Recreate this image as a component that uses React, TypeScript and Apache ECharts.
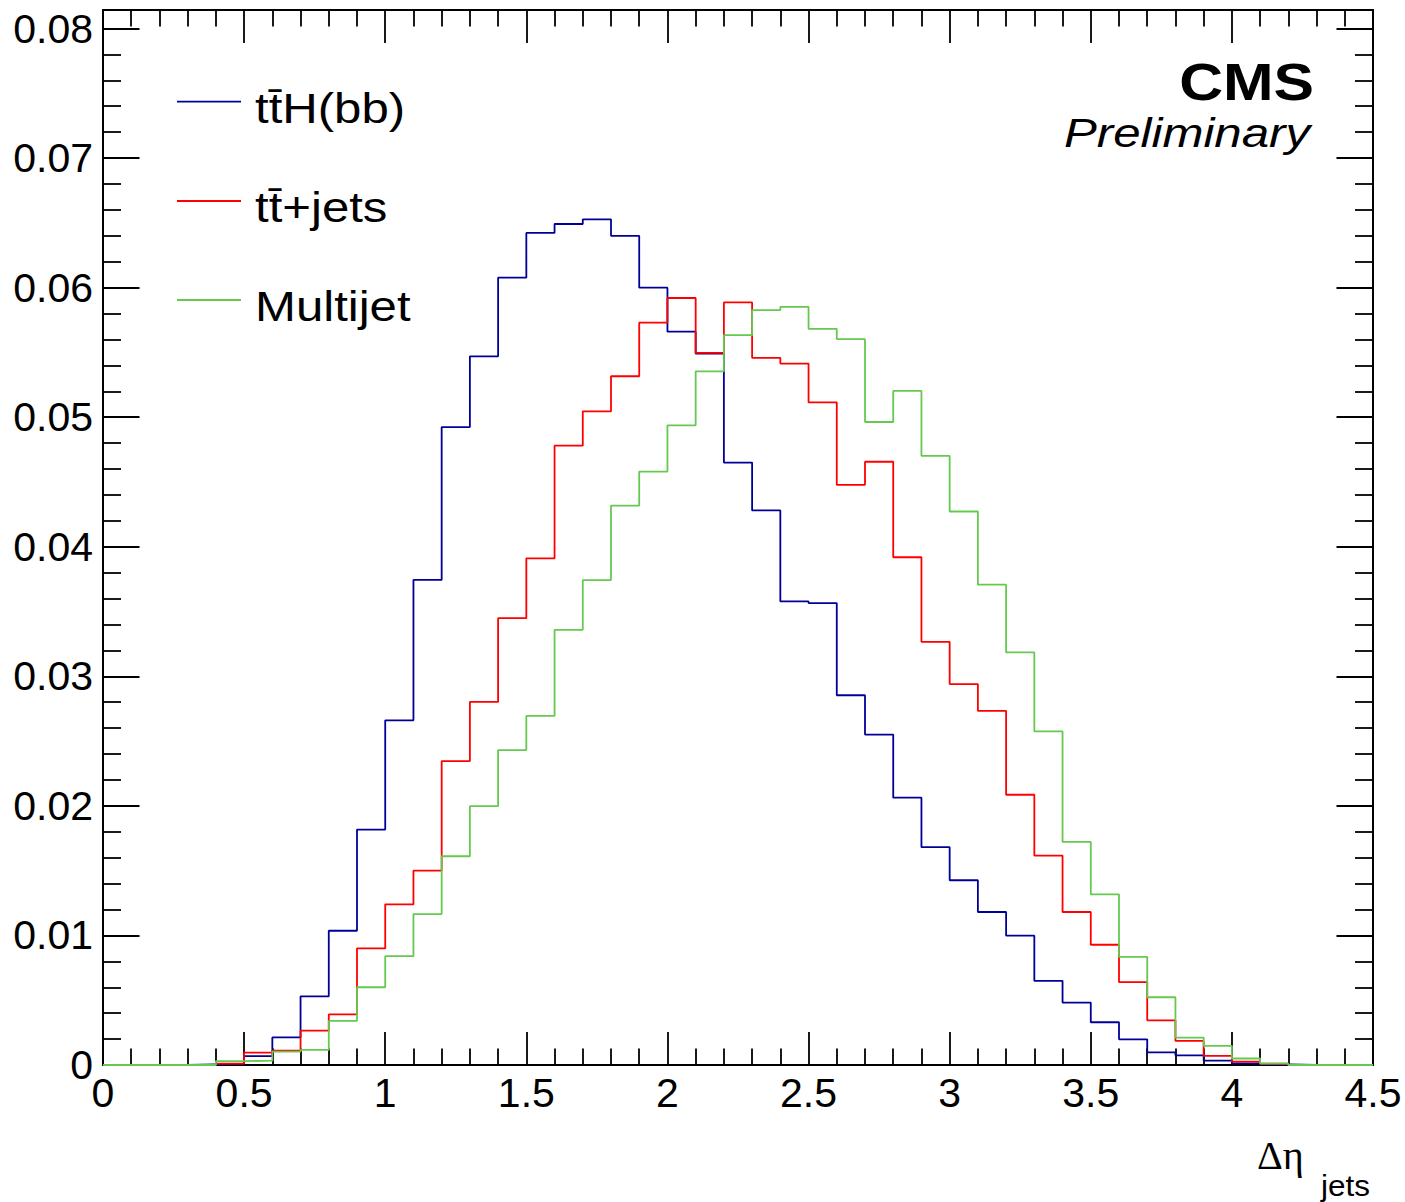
import React, { useEffect, useRef } from 'react';
import * as echarts from 'echarts';

// ---- binning / axes ----
const BIN_WIDTH = 0.1;
const X_MIN = 0;
const X_MAX = 4.5;
const X_TICK_STEP = 0.5;
const Y_MIN = 0;
const Y_MAX = 0.08;
const Y_TICK_STEP = 0.01;

// ---- labels ----
const SERIES_NAMES = ['tt\u0304H(bb)', 'tt\u0304+jets', 'Multijet'];
const SERIES_COLORS = ['#000099', '#ff0000', '#66c94f'];
const X_TITLE_MAIN = '\u0394\u03b7';
const X_TITLE_SUB = 'jets';
const EXPERIMENT = 'CMS';
const STATUS = 'Preliminary';

// ---- bin contents (45 bins, 0 .. 4.5) ----
const TTH = [
  0, 0, 0, 0.00005, 0.0001, 0.00068, 0.00213, 0.0053, 0.01036, 0.01817,
  0.0266, 0.03744, 0.04924, 0.0547, 0.06077, 0.06422, 0.06491, 0.06527, 0.064, 0.06,
  0.0566, 0.0549, 0.0465, 0.0428, 0.03578, 0.03565, 0.02854, 0.0255, 0.02063, 0.01681,
  0.01426, 0.01181, 0.00998, 0.0065, 0.00482, 0.0033, 0.00198, 0.00098, 0.00075, 0.00034,
  0.00013, 0.00005, 0, 0, 0,
];
const TTJETS = [
  0, 0, 0, 0, 0.0001, 0.00095, 0.0011, 0.00265, 0.0039, 0.009,
  0.0124, 0.015, 0.02346, 0.02802, 0.03449, 0.03911, 0.0478, 0.05045, 0.05316, 0.0573,
  0.0592, 0.05497, 0.05886, 0.05458, 0.05414, 0.05115, 0.04478, 0.04656, 0.03919, 0.03266,
  0.0294, 0.02734, 0.02086, 0.01616, 0.01181, 0.00928, 0.0064, 0.00345, 0.00186, 0.0007,
  0.00026, 0.0001, 0, 0, 0,
];
const MULTIJET = [
  0, 0, 0, 0, 0.0003, 0.00033, 0.00103, 0.00116, 0.0034, 0.006,
  0.0084, 0.01165, 0.01611, 0.01998, 0.02431, 0.02694, 0.03359, 0.03743, 0.04318, 0.0458,
  0.04937, 0.05354, 0.05633, 0.05826, 0.05852, 0.05682, 0.05602, 0.04963, 0.05203, 0.04702,
  0.04272, 0.03707, 0.03184, 0.02575, 0.01722, 0.01317, 0.00835, 0.00523, 0.00211, 0.00147,
  0.0005, 0.0001, 0, 0, 0,
];

const SERIES_VALUES = [TTH, TTJETS, MULTIJET];

function toStepData(values: number[]): number[][] {
  const pts = values.map((v, i) => [Number((X_MIN + i * BIN_WIDTH).toFixed(3)), v]);
  pts.push([X_MAX, values[values.length - 1]]);
  return pts;
}

const FONT = '"Liberation Sans", Arial, Helvetica, sans-serif';
const SERIF = '"Liberation Serif", "Times New Roman", serif';

export default function App() {
  const ref = useRef<HTMLDivElement>(null);

  useEffect(() => {
    if (!ref.current) return;
    const chart = echarts.init(ref.current, undefined, { renderer: 'svg' });

    const tickStyle = { color: '#000', width: 1.8 };
    const makeXAxis = () => ({
      type: 'value',
      min: X_MIN,
      max: X_MAX,
      interval: X_TICK_STEP,
      axisLine: { show: false, onZero: false },
      splitLine: { show: false },
      minorSplitLine: { show: false },
      axisTick: { show: true, inside: true, length: 33, lineStyle: { ...tickStyle } },
      minorTick: { show: true, splitNumber: 5, length: 16.5, lineStyle: { ...tickStyle } },
    });
    const makeYAxis = () => ({
      type: 'value',
      min: Y_MIN,
      max: Y_MAX,
      interval: Y_TICK_STEP,
      axisLine: { show: false, onZero: false },
      splitLine: { show: false },
      minorSplitLine: { show: false },
      axisTick: { show: true, inside: true, length: 36.5, lineStyle: { ...tickStyle } },
      minorTick: { show: true, splitNumber: 5, length: 18, lineStyle: { ...tickStyle } },
    });

    const legendGraphics: any[] = [];
    const legendLineY = [101.7, 201, 300];
    SERIES_NAMES.forEach((name, i) => {
      legendGraphics.push({
        type: 'line',
        shape: { x1: 177, y1: legendLineY[i], x2: 241, y2: legendLineY[i] },
        style: { stroke: SERIES_COLORS[i], lineWidth: 1.8 },
      });
      legendGraphics.push({
        type: 'text',
        x: 255,
        y: legendLineY[i] + 7,
        scaleX: 1.17,
        style: {
          text: name,
          font: `42px ${FONT}`,
          fill: '#000',
          textAlign: 'left',
          align: 'left',
          textVerticalAlign: 'middle',
          verticalAlign: 'middle',
        },
      });
    });

    const option: any = {
      animation: false,
      grid: {
        left: 103,
        right: 32,
        top: 28.5,
        bottom: 137,
        containLabel: false,
        outerBoundsMode: 'none',
      },
      xAxis: [
        {
          ...makeXAxis(),
          position: 'bottom',
          axisLabel: {
            show: true,
            margin: 7,
            fontSize: 41,
            fontFamily: FONT,
            color: '#000',
          },
        },
        {
          ...makeXAxis(),
          position: 'top',
          offset: 18.5,
          axisLabel: { show: false },
        },
      ],
      yAxis: [
        {
          ...makeYAxis(),
          position: 'left',
          axisLabel: {
            show: true,
            margin: 10,
            fontSize: 41,
            fontFamily: FONT,
            color: '#000',
            padding: [5, 0, 0, 0],
            formatter: (v: number) => (v === 0 ? '0' : v.toFixed(2)),
          },
        },
        {
          ...makeYAxis(),
          position: 'right',
          axisLabel: { show: false },
        },
      ],
      series: SERIES_VALUES.map((vals, i) => ({
        type: 'line',
        name: SERIES_NAMES[i],
        xAxisIndex: 0,
        yAxisIndex: 0,
        step: 'end',
        showSymbol: false,
        symbol: 'none',
        silent: true,
        lineStyle: { color: SERIES_COLORS[i], width: 1.8 },
        data: toStepData(vals),
        z: 3,
      })),
      graphic: [
        {
          type: 'rect',
          shape: { x: 103, y: 10, width: 1270, height: 1055 },
          style: { fill: 'none', stroke: '#000', lineWidth: 2 },
          z: 1,
        },
        ...legendGraphics,
        {
          type: 'text',
          x: 1314,
          y: 82,
          scaleX: 1.19,
          style: {
            text: EXPERIMENT,
            font: `bold 51px ${FONT}`,
            fill: '#000',
            textAlign: 'right',
            align: 'right',
            textVerticalAlign: 'middle',
            verticalAlign: 'middle',
          },
        },
        {
          type: 'text',
          x: 1310,
          y: 133,
          scaleX: 1.23,
          style: {
            text: STATUS,
            font: `italic 40px ${FONT}`,
            fill: '#000',
            textAlign: 'right',
            align: 'right',
            textVerticalAlign: 'middle',
            verticalAlign: 'middle',
          },
        },
        {
          type: 'text',
          x: 1257,
          y: 1156,
          scaleX: 1.03,
          style: {
            text: X_TITLE_MAIN,
            font: `39px ${SERIF}`,
            fill: '#000',
            textAlign: 'left',
            align: 'left',
            textVerticalAlign: 'middle',
            verticalAlign: 'middle',
          },
        },
        {
          type: 'text',
          x: 1321,
          y: 1186,
          scaleX: 1.05,
          style: {
            text: X_TITLE_SUB,
            font: `30px ${FONT}`,
            fill: '#000',
            textAlign: 'left',
            align: 'left',
            textVerticalAlign: 'middle',
            verticalAlign: 'middle',
          },
        },
      ],
    };

    chart.setOption(option);
    return () => {
      chart.dispose();
    };
  }, []);

  return (
    <div
      ref={ref}
      style={{ position: 'absolute', left: 0, top: 0, width: 1405, height: 1202, background: '#fff' }}
    />
  );
}
